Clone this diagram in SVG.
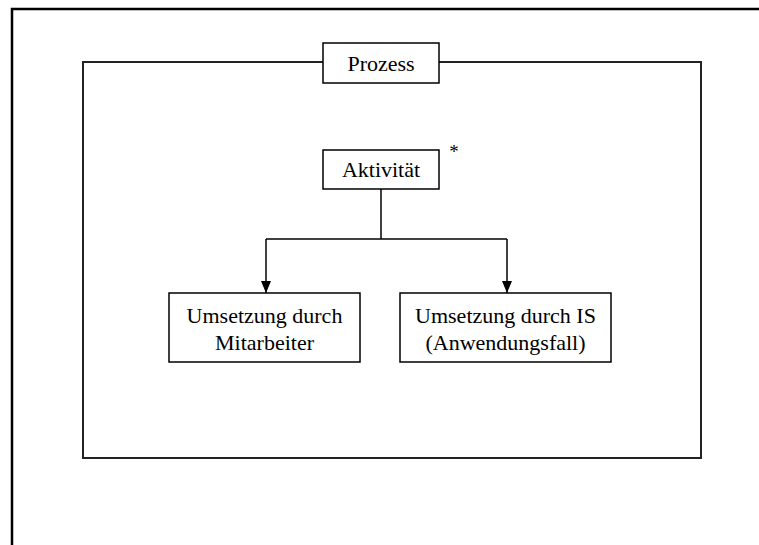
<svg xmlns="http://www.w3.org/2000/svg" width="759" height="545" viewBox="0 0 759 545">
  <defs>
    <style>
      .box { fill: #ffffff; stroke: #000000; stroke-width: 1.5; }
      .frame { fill: none; stroke: #222222; stroke-width: 2; }
      .border { fill: none; stroke: #000000; stroke-width: 2.5; }
      .conn { fill: none; stroke: #000000; stroke-width: 1.5; }
      .label { font-family: "Liberation Serif", "Times New Roman", serif; font-size: 22px; fill: #000000; text-anchor: middle; }
    </style>
    <!-- filled triangle pointing along the line direction -->
    <marker id="arrow" viewBox="0 0 12 10" refX="12" refY="5" markerWidth="12" markerHeight="10" markerUnits="userSpaceOnUse" orient="auto">
      <path d="M0,0 L12,5 L0,10 Z" fill="#000000"/>
    </marker>
  </defs>
  <rect width="759" height="545" fill="#ffffff"/>

  <!-- page border (open to the right and bottom) -->
  <path class="border" d="M12,545 L12,9 L759,9"/>

  <!-- process frame -->
  <g id="process-frame">
    <rect class="frame" x="83" y="62" width="618" height="396"/>
  </g>

  <g id="prozess">
    <rect class="box" x="323" y="43" width="116" height="40"/>
    <text class="label" x="381" y="71">Prozess</text>
  </g>

  <g id="aktivitaet">
    <rect class="box" x="323" y="150" width="116" height="39"/>
    <text class="label" x="381" y="177">Aktivität</text>
    <text class="label" x="454" y="158" style="font-size:19px">*</text>
  </g>

  <g id="umsetzung-mitarbeiter">
    <rect class="box" x="169" y="293" width="191" height="69"/>
    <text class="label" x="264.5" y="323">Umsetzung durch</text>
    <text class="label" x="264.5" y="350">Mitarbeiter</text>
  </g>

  <g id="umsetzung-is">
    <rect class="box" x="400" y="293" width="211" height="69"/>
    <text class="label" x="505.5" y="323">Umsetzung durch IS</text>
    <text class="label" x="505.5" y="350">(Anwendungsfall)</text>
  </g>

  <g id="connectors">
    <path class="conn" d="M381,189 L381,239"/>
    <path class="conn" d="M266,239 L507,239"/>
    <path class="conn" d="M266,239 L266,293" marker-end="url(#arrow)"/>
    <path class="conn" d="M507,239 L507,293" marker-end="url(#arrow)"/>
  </g>
</svg>
